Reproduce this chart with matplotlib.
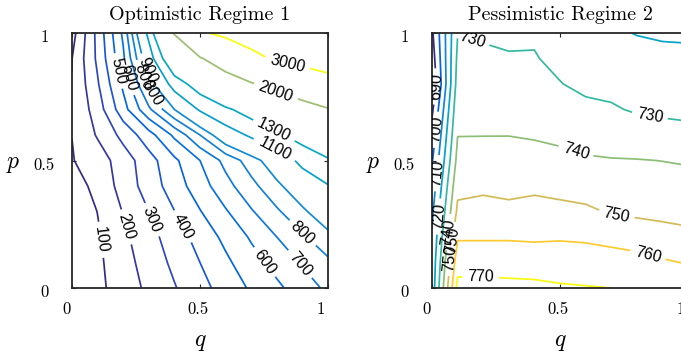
import numpy as np
import matplotlib
matplotlib.use("Agg")
import matplotlib.pyplot as plt
import matplotlib.transforms as mtransforms
from matplotlib.colors import LinearSegmentedColormap, Normalize

plt.rcParams['mathtext.fontset'] = 'cm'

# grid (same for both panels)
q_vals = [0.0, 0.1, 0.2, 0.3, 0.4, 0.5, 0.6, 0.7, 0.8, 0.9, 1.0]
p_vals = [0.0, 0.1, 0.2, 0.3, 0.4, 0.5, 0.6, 0.7, 0.8, 0.9, 1.0]

# Optimistic Regime 1, rows = p, cols = q
z_optimistic = [
    [0, 75, 149, 221, 293, 367, 441, 513, 580, 650, 721],
    [0, 80, 162, 242, 322, 400, 480, 560, 635, 710, 780],
    [0, 88, 178, 265, 350, 438, 525, 612, 700, 785, 870],
    [20, 102, 205, 300, 398, 495, 590, 690, 785, 880, 980],
    [60, 125, 240, 345, 450, 555, 665, 770, 875, 985, 1090],
    [95, 150, 250, 360, 480, 600, 730, 850, 980, 1150, 1270],
    [101, 210, 330, 460, 620, 800, 1000, 1130, 1260, 1400, 1580],
    [101, 250, 460, 680, 900, 1120, 1260, 1400, 1560, 1750, 1960],
    [101, 290, 520, 830, 1180, 1420, 1680, 1950, 2200, 2450, 2700],
    [99, 320, 580, 1000, 1550, 1950, 2350, 2800, 3100, 3250, 3400],
    [60, 330, 620, 1150, 2030, 2920, 3150, 3350, 3450, 3550, 3650],
]
levels_optimistic = [100, 200, 300, 400, 500, 600, 700, 800, 900, 1100, 1300, 2000, 3000]

# Pessimistic Regime 2
z_pessimistic = [
    [714, 773, 773, 772.5, 772, 771, 770.5, 770, 769, 768.5, 768],
    [713, 766, 766, 766, 766, 765.5, 765, 764.5, 763, 761, 759.5],
    [711, 759, 759, 759, 758.5, 759, 758.5, 757, 756, 754.5, 753],
    [708, 752, 753.5, 753, 753.5, 753, 752, 749, 748, 747, 745.9],
    [704, 747.5, 748, 746.5, 748, 746.5, 745, 744.5, 744, 743, 742],
    [699, 743, 744, 744.5, 744, 743, 741, 740.5, 740.3, 739.9, 739.5],
    [694, 739.8, 739.8, 739.8, 739, 737.6, 736.5, 735.5, 735, 734, 733],
    [688, 737, 737, 737, 736.5, 735, 732, 731, 729, 728, 727.5],
    [681, 734, 734, 733, 733, 730.3, 728, 727.4, 726.5, 726, 725],
    [685, 732, 731.5, 730.4, 730.5, 728, 726, 725, 724.5, 724, 723],
    [688.3, 729.8, 729.0, 729, 729, 727, 724, 722, 719.5, 718, 718],
]
levels_pessimistic = [690, 700, 710, 720, 730, 740, 750, 760, 770]

# MATLAB parula (R2014b), subsampled
parula = LinearSegmentedColormap.from_list("parula", [
    (0 / 63, (0.2081, 0.1663, 0.5292)),
    (2 / 63, (0.2123, 0.2138, 0.6270)),
    (4 / 63, (0.1959, 0.2645, 0.7279)),
    (6 / 63, (0.1253, 0.3242, 0.8303)),
    (8 / 63, (0.0117, 0.3875, 0.8820)),
    (10 / 63, (0.0165, 0.4266, 0.8786)),
    (14 / 63, (0.0723, 0.4887, 0.8467)),
    (18 / 63, (0.0641, 0.5570, 0.8240)),
    (22 / 63, (0.0239, 0.6287, 0.8038)),
    (26 / 63, (0.0267, 0.6642, 0.7607)),
    (30 / 63, (0.1453, 0.7098, 0.6646)),
    (34 / 63, (0.3022, 0.7376, 0.5712)),
    (38 / 63, (0.4871, 0.7491, 0.4840)),
    (42 / 63, (0.6473, 0.7456, 0.4188)),
    (47 / 63, (0.8185, 0.7327, 0.3498)),
    (52 / 63, (0.9739, 0.7314, 0.2666)),
    (55 / 63, (0.9955, 0.7861, 0.1967)),
    (59 / 63, (0.9626, 0.8705, 0.1309)),
    (63 / 63, (0.9763, 0.9831, 0.0538)),
])

serif = 'cmr10'
label_pos_opt = [(0.12, 0.19), (0.214, 0.24), (0.318, 0.27), (0.43, 0.24),
                 (0.175, 0.85), (0.2, 0.82), (0.32, 0.77), (0.29, 0.81), (0.29, 0.85),
                 (0.75, 0.10), (0.88, 0.085), (0.9, 0.215),
                 (0.79, 0.54), (0.79, 0.62), (0.8, 0.78), (0.84, 0.87)]
label_pos_pes = [(0.16, 0.985), (0.017, 0.79), (0.02, 0.62), (0.02, 0.45), (0.026, 0.28),
                 (0.059, 0.22), (0.07, 0.19), (0.072, 0.12), (0.19, 0.055),
                 (0.85, 0.67), (0.567, 0.55), (0.72, 0.28), (0.84, 0.118)]

fig = plt.figure(figsize=(6.81, 3.54), dpi=100)
ax1 = fig.add_axes([72 / 681, 66 / 354, 256 / 681, 255 / 354])
ax2 = fig.add_axes([432 / 681, 66 / 354, 256 / 681, 255 / 354])

panels = [
    (ax1, z_optimistic, levels_optimistic, label_pos_opt, "Optimistic Regime 1"),
    (ax2, z_pessimistic, levels_pessimistic, label_pos_pes, "Pessimistic Regime 2"),
]
for ax, z, lev, lpos, title in panels:
    Q, P = np.meshgrid(q_vals, p_vals)
    cs = ax.contour(Q, P, np.array(z), levels=lev, cmap=parula,
                    norm=Normalize(min(lev), max(lev)), linewidths=1.25)
    ax.clabel(cs, manual=lpos, inline=True, fontsize=11.5, colors='k',
              fmt='%d', inline_spacing=3)
    for t in cs.labelTexts:
        t.set_family('Liberation Sans')
    ax.set_xlim(0, 1)
    ax.set_ylim(0, 1)
    ax.set_xticks([0, 0.5, 1])
    ax.set_yticks([0, 0.5, 1])
    ax.set_xticklabels(['0', '0.5', '1'], family=serif, fontsize=12)
    ax.set_yticklabels(['0', '0.5', '1'], family=serif, fontsize=12, ha='center')
    ax.tick_params(direction='in', length=3, width=0.8, top=True, right=True,
                   color='#262626')
    ax.tick_params(axis='y', pad=20)
    ax.tick_params(axis='x', pad=10)
    # nudge tick labels like the original
    for lbl, dx in zip(ax.get_xticklabels(), [-5.5, -1.5, -7]):
        lbl.set_transform(lbl.get_transform() +
                          mtransforms.ScaledTranslation(dx / 100, 0, fig.dpi_scale_trans))
    for lbl in ax.get_yticklabels():
        lbl.set_transform(lbl.get_transform() +
                          mtransforms.ScaledTranslation(0, -3 / 100, fig.dpi_scale_trans))
    for s in ax.spines.values():
        s.set_linewidth(1.3)
        s.set_color('#262626')
    ax.set_title(title, family=serif, fontsize=14.5, pad=9)
    ax.set_xlabel('$q$', fontsize=17, va='center')
    ax.xaxis.set_label_coords(0.5, -53 / 255)
    ax.set_ylabel('$p$', fontsize=17, rotation=0, va='center', ha='center')
    ax.yaxis.set_label_coords(-59 / 256, 0.49)

fig.savefig("out.png", dpi=100)
